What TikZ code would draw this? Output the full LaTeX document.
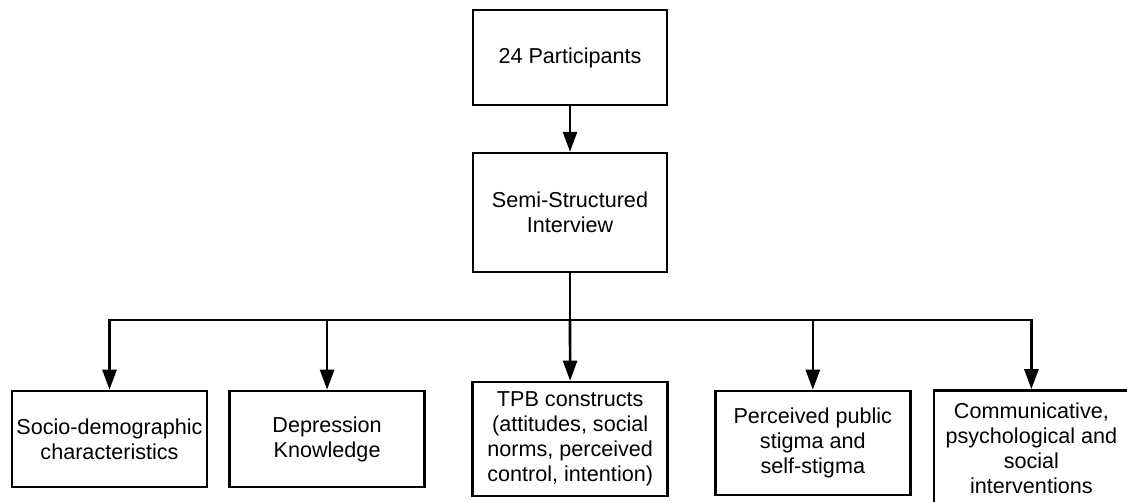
\documentclass[tikz,border=0pt]{standalone}
\usepackage{fontspec}
\setmainfont{Liberation Sans}
\usetikzlibrary{positioning,arrows.meta}
\tikzset{
  box/.style   ={rectangle, draw=black, line width=2.6pt, fill=white,
                 align=center, font=\fontsize{21.6}{25}\selectfont,
                 minimum width=195pt, inner sep=0pt},
  fl/.style    ={-{Triangle[length=20pt,width=14pt]}, line width=2.6pt},
  trunk/.style ={line width=2.6pt}
}

\begin{document}
\begin{tikzpicture}[x=1pt,y=-1pt]
  \useasboundingbox (0,0) rectangle (1127,501);

  \node[box,minimum width=194pt,minimum height=95pt] (part) at (570,57.5) {24 Participants};
  \node[box,minimum width=194pt,minimum height=119pt,below=45.5pt of part] (intv) {Semi-Structured\\Interview};
  \draw[fl] (part)--(intv);

  \node[box,minimum height=96pt] (socio) at (109.5,439) {Socio-demographic\\characteristics};
  \node[box,minimum height=96pt,right=20pt of socio] (depr) {Depression\\Knowledge};
  \node[box,minimum height=114pt,right=45.5pt of depr] (tpb) {TPB constructs\\(attitudes, social\\norms, perceived\\control, intention)};
  \node[box,minimum height=104pt,right=45pt of tpb,yshift=-4pt] (stig) {Perceived public\\stigma and\\self-stigma};
  \node[box,minimum height=115pt,right=21pt of stig,yshift=-5pt] (comm) {Communicative,\\psychological and\\social\\interventions};

  \coordinate (split) at (570,320);
  \draw[trunk] (intv)--(split);
  \draw[fl] (split) -| (socio);
  \draw[fl] (split) -| (depr);
  \draw[fl] (split) -- (tpb);
  \draw[fl] (split) -| (stig);
  \draw[fl] (split) -| (comm);
\end{tikzpicture}
\end{document}
